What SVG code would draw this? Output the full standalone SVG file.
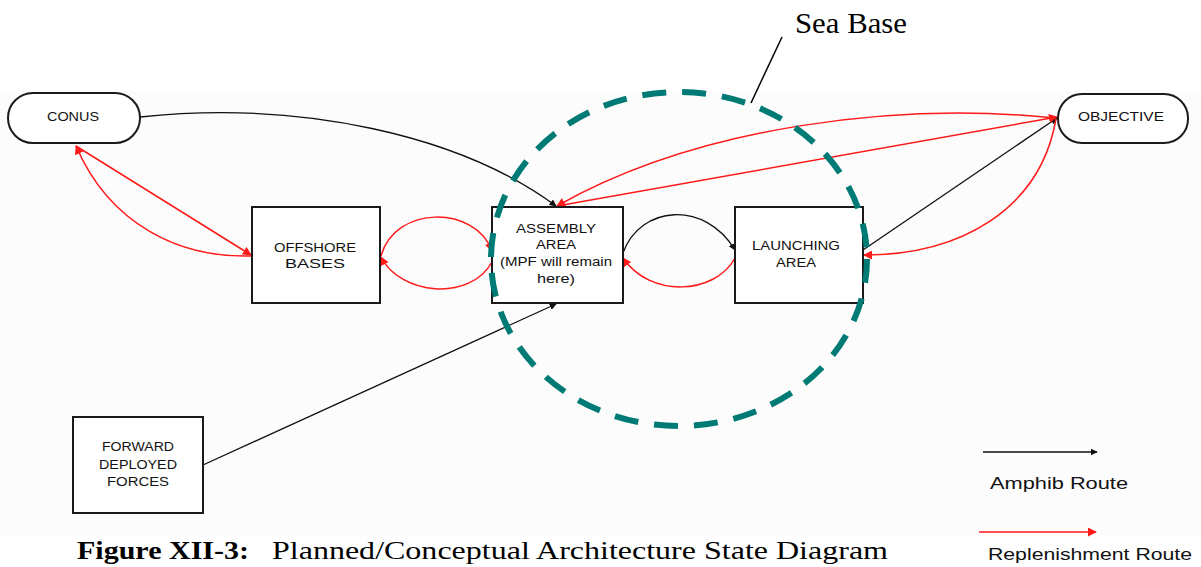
<svg xmlns="http://www.w3.org/2000/svg" width="1201" height="567" viewBox="0 0 1201 567">
  <style>
    .node { fill: #ffffff; stroke: #1a1a1a; stroke-width: 2; }
    .lbl { font-family: "Liberation Sans", Arial, sans-serif; font-size: 12px; fill: #111; text-anchor: middle; dominant-baseline: central; }
    .blk { fill: none; stroke: #111; stroke-width: 1.3; }
    .red { fill: none; stroke: #ff1a1a; stroke-width: 1.5; }
    .leg { font-family: "Liberation Sans", Arial, sans-serif; font-size: 16px; fill: #111; }
    .serif { font-family: "Liberation Serif", "Times New Roman", serif; fill: #000; }
  </style>
  <defs>
    <marker id="ahBlack" viewBox="0 0 10 10" refX="9" refY="5" markerWidth="7" markerHeight="7" markerUnits="userSpaceOnUse" orient="auto">
      <path d="M0,0 L10,5 L0,10 z" fill="#111"/>
    </marker>
    <marker id="ahRed" viewBox="0 0 10 10" refX="9" refY="5" markerWidth="9" markerHeight="9" markerUnits="userSpaceOnUse" orient="auto">
      <path d="M0,0 L10,5 L0,10 z" fill="#ff1a1a"/>
    </marker>
  </defs>

  <rect x="0" y="0" width="1201" height="567" fill="#ffffff"/>
  <rect x="0" y="91" width="1201" height="445" fill="#fcfcfc"/>

  <!-- connectors -->
  <g id="connectors">
    <!-- amphib routes -->
    <path class="blk" d="M140,117 C300,100 460,135 556,206" marker-end="url(#ahBlack)"/>
    <path class="blk" d="M623,253 C640,205 705,200 735,250" marker-end="url(#ahBlack)"/>
    <path class="blk" d="M863,250 L1057,118" marker-end="url(#ahBlack)"/>
    <path class="blk" d="M203,465 L556,304" marker-end="url(#ahBlack)"/>

    <!-- replenishment routes -->
    <path class="red" d="M76,146 L251,255" marker-end="url(#ahRed)"/>
    <path class="red" d="M251,256 C180,258 110,225 76,146" marker-end="url(#ahRed)"/>
    <path class="red" d="M381,256 C395,205 475,205 492,251" marker-end="url(#ahRed)"/>
    <path class="red" d="M492,262 C470,302 400,295 381,257" marker-end="url(#ahRed)"/>
    <path class="red" d="M735,258 C715,295 650,298 623,258" marker-end="url(#ahRed)"/>
    <path class="red" d="M1055,118 C900,102 700,125 557,206" marker-end="url(#ahRed)"/>
    <path class="red" d="M557,206 L1057,117" marker-end="url(#ahRed)"/>
    <path class="red" d="M1056,119 C1040,210 960,255 864,255" marker-end="url(#ahRed)"/>
  </g>

  <!-- nodes -->
  <g id="conus">
    <rect class="node" x="8" y="93" width="132" height="50" rx="25" ry="25"/>
    <text class="lbl" x="73" y="117" textLength="52" lengthAdjust="spacingAndGlyphs">CONUS</text>
  </g>
  <g id="objective">
    <rect class="node" x="1058" y="94" width="130" height="49" rx="24" ry="24"/>
    <text class="lbl" x="1121" y="117" textLength="86" lengthAdjust="spacingAndGlyphs">OBJECTIVE</text>
  </g>
  <g id="offshore-bases">
    <rect class="node" x="252" y="207" width="128" height="96"/>
    <text class="lbl" x="315" y="248" textLength="82" lengthAdjust="spacingAndGlyphs">OFFSHORE</text>
    <text class="lbl" x="315" y="264" textLength="60" lengthAdjust="spacingAndGlyphs">BASES</text>
  </g>
  <g id="assembly-area">
    <rect class="node" x="492" y="207" width="131" height="96"/>
    <text class="lbl" x="556" y="229" textLength="80" lengthAdjust="spacingAndGlyphs">ASSEMBLY</text>
    <text class="lbl" x="556" y="245" textLength="40" lengthAdjust="spacingAndGlyphs">AREA</text>
    <text class="lbl" x="556" y="262" textLength="112" lengthAdjust="spacingAndGlyphs">(MPF will remain</text>
    <text class="lbl" x="556" y="279" textLength="38" lengthAdjust="spacingAndGlyphs">here)</text>
  </g>
  <g id="launching-area">
    <rect class="node" x="735" y="207" width="128" height="96"/>
    <text class="lbl" x="796" y="246" textLength="88" lengthAdjust="spacingAndGlyphs">LAUNCHING</text>
    <text class="lbl" x="796" y="263" textLength="40" lengthAdjust="spacingAndGlyphs">AREA</text>
  </g>
  <g id="forward-deployed-forces">
    <rect class="node" x="73" y="417" width="130" height="96"/>
    <text class="lbl" x="138" y="447" textLength="72" lengthAdjust="spacingAndGlyphs">FORWARD</text>
    <text class="lbl" x="138" y="465" textLength="78" lengthAdjust="spacingAndGlyphs">DEPLOYED</text>
    <text class="lbl" x="138" y="482" textLength="62" lengthAdjust="spacingAndGlyphs">FORCES</text>
  </g>

  <!-- sea base boundary and callout -->
  <g id="sea-base">
    <ellipse cx="679" cy="259" rx="188" ry="167" fill="none" stroke="#007a74" stroke-width="6" stroke-dasharray="24 16"/>
    <line x1="782" y1="37" x2="751" y2="103" stroke="#000" stroke-width="1.5"/>
    <text class="serif" x="795" y="33" font-size="29" textLength="112" lengthAdjust="spacingAndGlyphs">Sea Base</text>
  </g>

  <!-- legend -->
  <g id="legend">
    <line x1="983" y1="452" x2="1097" y2="452" class="blk" marker-end="url(#ahBlack)"/>
    <text class="leg" x="990" y="489" textLength="138" lengthAdjust="spacingAndGlyphs">Amphib Route</text>
    <line x1="979" y1="532" x2="1096" y2="532" class="red" stroke-width="1.8" marker-end="url(#ahRed)"/>
    <text class="leg" x="988" y="560" textLength="204" lengthAdjust="spacingAndGlyphs">Replenishment Route</text>
  </g>

  <!-- caption -->
  <text class="serif" x="77" y="559" font-size="26"><tspan font-weight="bold" textLength="172" lengthAdjust="spacingAndGlyphs">Figure XII-3:</tspan><tspan x="272" textLength="616" lengthAdjust="spacingAndGlyphs">Planned/Conceptual Architecture State Diagram</tspan></text>
</svg>
